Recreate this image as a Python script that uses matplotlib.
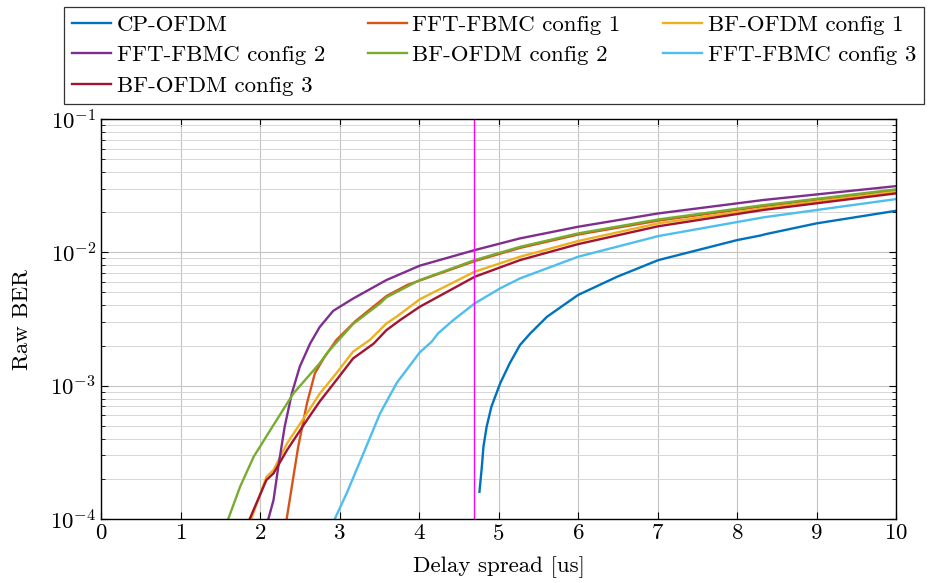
import numpy as np
import matplotlib
matplotlib.use('Agg')
from matplotlib import pyplot as plt
from matplotlib.ticker import LogLocator, NullFormatter

plt.rcParams['font.family'] = ['cmr10', 'DejaVu Serif']
plt.rcParams['mathtext.fontset'] = 'cm'
plt.rcParams['axes.formatter.use_mathtext'] = True

# values (delay spread [us], raw BER)
cp_x = [4.76, 4.79, 4.81, 4.85, 4.91, 5.02, 5.14, 5.27, 5.40, 5.61, 6.00, 6.49, 7.01, 8.00, 8.30, 8.36, 9.00, 10.0]
cp_y = [1.6e-4, 2.47e-4, 3.48e-4, 4.92e-4, 6.95e-4, 1.04e-3, 1.47e-3, 2.02e-3, 2.47e-3, 3.29e-3, 4.79e-3, 6.56e-3,
        8.75e-3, 0.01236, 0.0134, 0.0137, 0.0165, 0.0205]

fft1_x = [2.335, 2.40, 2.48, 2.59, 2.69, 2.80, 2.96, 3.20, 3.59, 3.85, 4.01, 4.70, 5.27, 6.00, 7.01, 8.33, 10.0]
fft1_y = [1.0e-4, 1.75e-4, 3.48e-4, 7.36e-4, 1.24e-3, 1.6e-3, 2.2e-3, 3.05e-3, 4.7e-3, 5.69e-3, 6.15e-3, 8.6e-3,
          0.0108, 0.0136, 0.0173, 0.0222, 0.0292]

bf1_x = [1.89, 2.08, 2.17, 2.34, 2.59, 2.75, 2.96, 3.17, 3.38, 3.59, 3.72, 4.01, 4.70, 5.27, 6.00, 7.01, 8.33, 10.0]
bf1_y = [1.0e-4, 2.07e-4, 2.33e-4, 3.69e-4, 6.2e-4, 8.7e-4, 1.24e-3, 1.8e-3, 2.2e-3, 2.93e-3, 3.3e-3, 4.45e-3, 7.16e-3,
         9.27e-3, 0.01216, 0.0165, 0.0214, 0.0285]

fft2_x = [2.105, 2.17, 2.23, 2.31, 2.40, 2.50, 2.63, 2.75, 2.92, 3.17, 3.59, 4.01, 4.70, 5.27, 6.00, 7.01, 8.33, 10.0]
fft2_y = [1.0e-4, 1.39e-4, 2.47e-4, 4.92e-4, 8.75e-4, 1.39e-3, 2.07e-3, 2.75e-3, 3.64e-3, 4.5e-3, 6.2e-3, 7.95e-3,
          0.0104, 0.01273, 0.01556, 0.0196, 0.0247, 0.0314]

bf2_x = [1.60, 1.75, 1.92, 2.13, 2.42, 2.75, 2.84, 3.17, 3.51, 3.59, 4.01, 4.70, 5.27, 6.00, 7.01, 8.33, 10.0]
bf2_y = [1.0e-4, 1.75e-4, 2.93e-4, 4.65e-4, 8.75e-4, 1.47e-3, 1.75e-3, 2.9e-3, 4.14e-3, 4.6e-3, 6.2e-3, 8.75e-3,
         0.011, 0.01387, 0.01766, 0.0226, 0.0297]

fft3_x = [2.94, 3.09, 3.30, 3.51, 3.72, 4.01, 4.16, 4.24, 4.43, 4.70, 5.02, 5.27, 6.00, 7.01, 8.33, 10.0]
fft3_y = [1.0e-4, 1.56e-4, 3.1e-4, 6.2e-4, 1.05e-3, 1.78e-3, 2.14e-3, 2.47e-3, 3.1e-3, 4.14e-3, 5.37e-3, 6.38e-3,
          9.27e-3, 0.01325, 0.0183, 0.0251]

bf3_x = [1.87, 2.08, 2.17, 2.34, 2.59, 2.75, 2.96, 3.17, 3.43, 3.59, 3.76, 4.01, 4.70, 5.27, 6.00, 7.01, 8.33, 10.0]
bf3_y = [1.0e-4, 1.96e-4, 2.2e-4, 3.29e-4, 5.52e-4, 7.6e-4, 1.1e-3, 1.6e-3, 2.07e-3, 2.61e-3, 3.1e-3, 3.91e-3, 6.56e-3,
         8.75e-3, 0.01153, 0.0157, 0.0208, 0.0277]

cp_len = 4.69

series = [
    ('CP-OFDM', cp_x, cp_y, '#0072BD'),
    ('FFT-FBMC config 1', fft1_x, fft1_y, '#D95319'),
    ('BF-OFDM config 1', bf1_x, bf1_y, '#EDB120'),
    ('FFT-FBMC config 2', fft2_x, fft2_y, '#7E2F8E'),
    ('BF-OFDM config 2', bf2_x, bf2_y, '#77AC30'),
    ('FFT-FBMC config 3', fft3_x, fft3_y, '#4DBEEE'),
    ('BF-OFDM config 3', bf3_x, bf3_y, '#A2142F'),
]

fig = plt.figure(figsize=(9.31, 5.83), dpi=100)
ax = fig.add_axes([0.1085, 0.1098, 0.854, 0.686])

handles = {}
for name, xs, ys, c in series:
    h, = ax.plot(xs, ys, color=c, lw=1.7, label=name)
    handles[name] = h

ax.axvline(cp_len, color='#FF00FF', lw=1.0)

ax.set_yscale('log')
ax.set_xlim(0, 10)
ax.set_ylim(1e-4, 1e-1)
ax.set_xticks(range(0, 11))
ax.yaxis.set_major_locator(LogLocator(base=10, numticks=10))
ax.yaxis.set_minor_locator(LogLocator(base=10, subs=np.arange(2, 10), numticks=20))
ax.yaxis.set_minor_formatter(NullFormatter())
ax.grid(True, which='major', color='#c4c4c4', lw=0.8)
ax.grid(True, which='minor', axis='y', color='#d6d6d6', lw=0.7)
ax.set_axisbelow(True)
ax.tick_params(which='both', direction='in', top=True, right=True, labelsize=16.5)
ax.tick_params(which='minor', length=3)
ax.tick_params(which='major', length=5)
for s in ax.spines.values():
    s.set_linewidth(1.0)

ax.set_xlabel('Delay spread [us]', fontsize=16.5, labelpad=9)
ax.set_ylabel('Raw BER', fontsize=16.5, labelpad=13)

# legend fills rows in the reference, matplotlib fills columns
order = ['CP-OFDM', 'FFT-FBMC config 2', 'BF-OFDM config 3',
         'FFT-FBMC config 1', 'BF-OFDM config 2',
         'BF-OFDM config 1', 'FFT-FBMC config 3']
leg = fig.legend([handles[k] for k in order], order, ncol=3,
                 loc='upper left', bbox_to_anchor=(0.0687, 0.988),
                 fontsize=16.5, frameon=True, fancybox=False,
                 edgecolor='black', handlelength=1.7, handletextpad=0.26,
                 labelspacing=0.45, columnspacing=1.85, borderpad=0.35,
                 borderaxespad=0.0)
leg.get_frame().set_linewidth(0.9)

fig.savefig('out.png', dpi=100)
